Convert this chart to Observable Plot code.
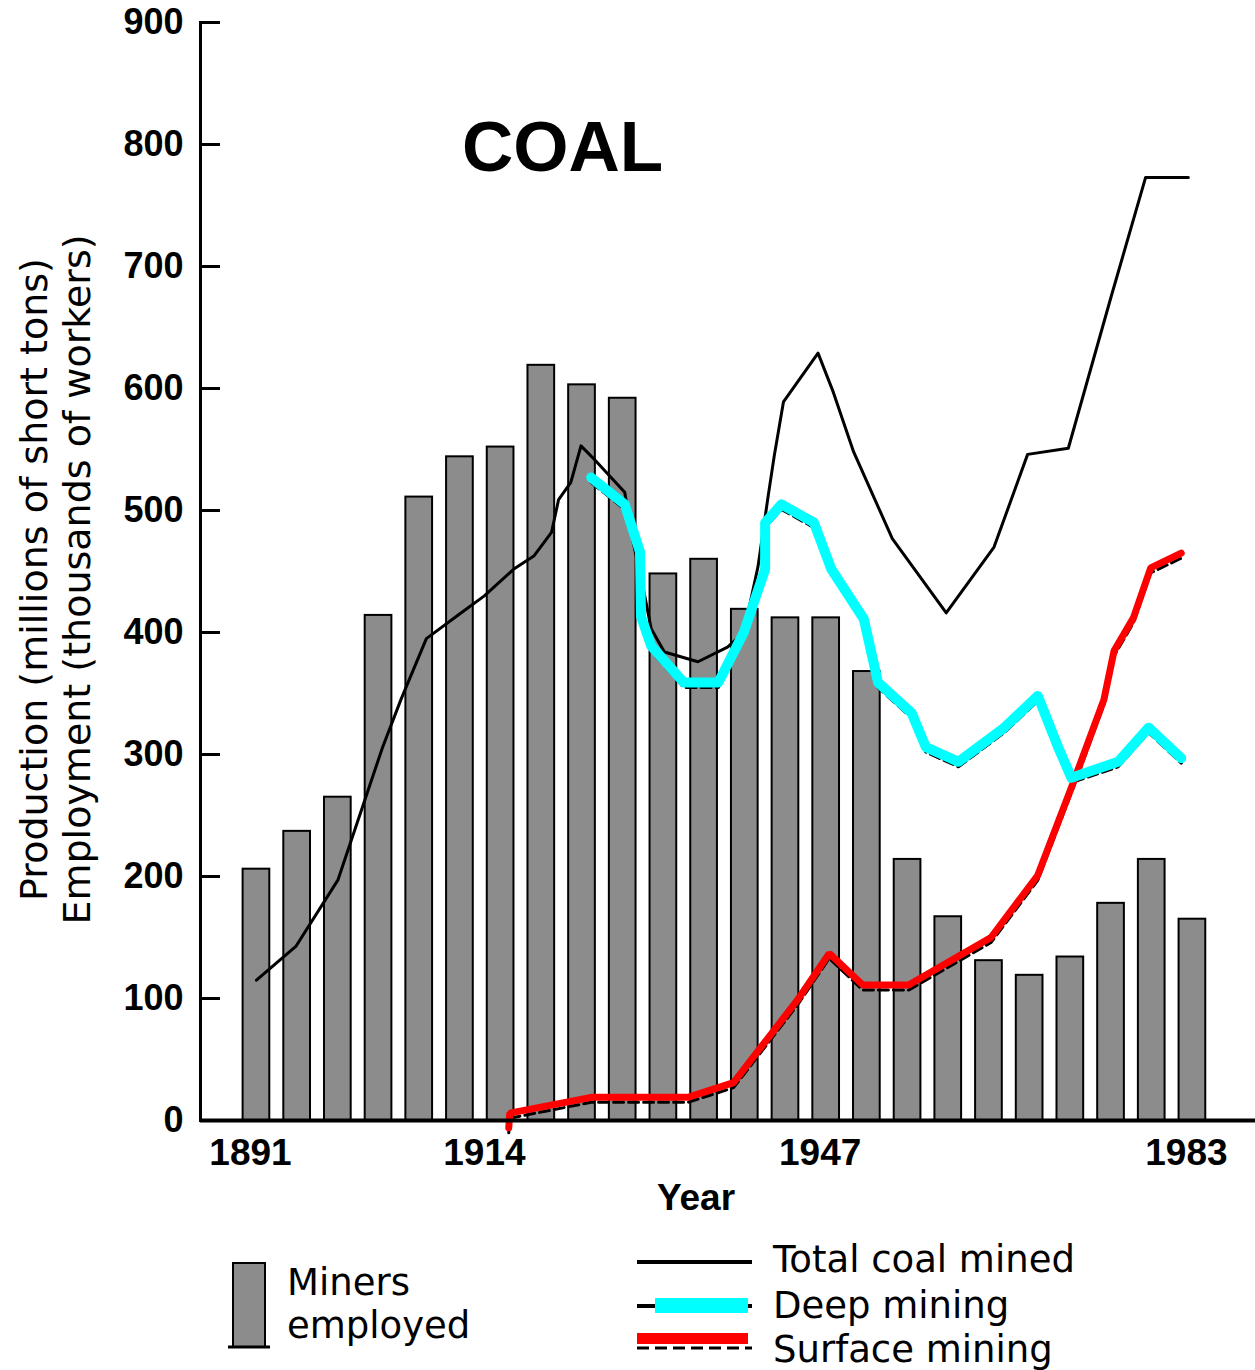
<!DOCTYPE html>
<html><head><meta charset="utf-8">
<script src="https://cdn.jsdelivr.net/npm/d3@7"></script>
<script src="https://cdn.jsdelivr.net/npm/@observablehq/plot@0.6"></script>
<style>
body{margin:0;background:#fff;}
#wrap{position:relative;width:1255px;height:1370px;overflow:hidden;background:#fff;}
#wrap svg{display:block;}
#overlay{position:absolute;left:0;top:0;pointer-events:none;}
</style></head><body><div id="wrap"></div>
<script>
// ---- data ----
const yTicks = [0, 100, 200, 300, 400, 500, 600, 700, 800, 900];
const xTicks = [1891, 1914, 1947, 1983];
const minerYears = [1891,1895,1899,1903,1907,1911,1915,1919,1923,1927,1931,1935,1939,1943,1947,1951,1955,1959,1963,1967,1971,1975,1979,1983];
const minersEmployed = [206,237,265,414,511,544,552,619,603,592,448,460,419,412,412,368,214,167,131,119,134,178,214,165];

const totalYears = [1891.0,1894.9,1899.0,1903.4,1905.2,1907.7,1911.1,1913.4,1916.3,1918.3,1920.0,1920.7,1921.9,1922.9,1924.2,1927.2,1928.0,1929.1,1929.8,1931.1,1934.4,1937.3,1938.9,1940.3,1941.3,1941.9,1942.8,1946.2,1947.7,1949.7,1953.5,1958.8,1963.5,1966.8,1970.8,1975.0,1978.4,1982.6];
const totalMined = [115,143,197,306,345,395,416,430,452,463,482,509,523,553,542,515,475,433,403,384,376,388,400,454,512,545,589,629,597,548,477,416,470,546,551,675,773,773];

const deepYears = [1923.9,1927.2,1928.7,1928.8,1929.8,1933.0,1936.4,1938.9,1941.0,1941.0,1942.6,1945.8,1947.5,1950.7,1952.1,1955.4,1956.8,1960.0,1964.5,1967.8,1969.8,1971.1,1975.7,1978.7,1981.9];
const deepMined = [527,505,466,413,389,359,359,400,452,490,505,490,452,411,359,334,306,294,322,348,306,281,294,322,297];

const surfaceYears = [1915.8,1915.9,1923.9,1933.4,1937.9,1944.2,1947.3,1950.6,1955.1,1963.2,1967.8,1971.2,1974.3,1975.3,1977.2,1978.9,1981.9];
const surfaceMined = [-6,6,19,19,31,99,137,111,111,150,201,275,345,385,412,453,465];

const chartTitle = "COAL";
const xLabel = "Year";
const yLabelLines = ["Production (millions of short tons)", "Employment (thousands of workers)"];
const legendMiners = ["Miners", "employed"];
const legendLines = ["Total coal mined", "Deep mining", "Surface mining"];

// ---- tables ----
const miners = minerYears.map((year, i) => ({year, value: minersEmployed[i]}));
const total = totalYears.map((year, i) => ({year, value: totalMined[i]}));
const deep = deepYears.map((year, i) => ({year, value: deepMined[i]}));
const surface = surfaceYears.map((year, i) => ({year, value: surfaceMined[i]}));

const chart = Plot.plot({
  width: 1255,
  height: 1215,
  marginLeft: 200,
  marginRight: 0,
  marginTop: 22,
  marginBottom: 95,
  x: {domain: [1885.5, 1989.2]},
  y: {domain: [0, 900]},
  style: {fontFamily: "'Liberation Sans', Arial, sans-serif", background: "white", color: "black", overflow: "visible"},
  marks: [
    Plot.rectY(miners, {x1: d => d.year - 2, x2: d => d.year + 2, y: "value", insetLeft: 7, insetRight: 7, fill: "#8c8c8c", stroke: "black", strokeWidth: 2}),
    Plot.line(total, {x: "year", y: "value", stroke: "black", strokeWidth: 3}),
    Plot.line(deep, {x: "year", y: "value", stroke: "black", strokeWidth: 3, strokeDasharray: "10,5", dy: 5}),
    Plot.line(surface, {x: "year", y: "value", stroke: "black", strokeWidth: 3, strokeDasharray: "10,5", dy: 5}),
    Plot.line(surface, {x: "year", y: "value", stroke: "#ff0000", strokeWidth: 7, strokeLinejoin: "miter"}),
    Plot.line(deep, {x: "year", y: "value", stroke: "#00ffff", strokeWidth: 10, strokeLinejoin: "round"}),
    Plot.frame({anchor: "left", strokeWidth: 3}),
    Plot.ruleY([0], {strokeWidth: 4}),
    Plot.axisY({ticks: yTicks, tickSize: 20, dx: 20, strokeWidth: 3, tickFormat: () => "", label: null}),
    Plot.axisY({ticks: yTicks, tickSize: 0, tickPadding: 17, fontSize: 36, fontWeight: "bold", stroke: "black", strokeWidth: 0.8, label: null}),
    Plot.axisX({ticks: xTicks, tickSize: 0, tickPadding: 18, dx: -6, tickFormat: d => String(d), fontSize: 37, fontWeight: "bold", label: null}),
    Plot.text([xLabel], {text: d => d, frameAnchor: "bottom", dx: -32, dy: 63, lineAnchor: "top", fontSize: 37, fontWeight: "bold"}),
    Plot.text([yLabelLines.join("\n")], {text: d => d, frameAnchor: "left", textAnchor: "middle", lineAnchor: "middle", rotate: -90, dx: -146, dy: 8, fontSize: 38, lineHeight: 1.13, fontFamily: "'DejaVu Sans', sans-serif"})
  ]
});

const wrap = document.getElementById("wrap");
wrap.appendChild(chart);

// ---- overlay: title + legend ----
const NS = "http://www.w3.org/2000/svg";
const ov = document.createElementNS(NS, "svg");
ov.setAttribute("id", "overlay");
ov.setAttribute("width", 1255);
ov.setAttribute("height", 1370);
function el(tag, attrs, text) {
  const e = document.createElementNS(NS, tag);
  for (const k in attrs) e.setAttribute(k, attrs[k]);
  if (text != null) e.textContent = text;
  ov.appendChild(e);
  return e;
}
el("text", {x: 462, y: 171, "font-family": "'Liberation Sans', Arial, sans-serif", "font-weight": "bold", "font-size": 71}, chartTitle);

// bar swatch
el("rect", {x: 233, y: 1263, width: 32, height: 84, fill: "#8c8c8c", stroke: "black", "stroke-width": 2});
el("line", {x1: 228, x2: 270, y1: 1347, y2: 1347, stroke: "black", "stroke-width": 3});
const legFont = {"font-family": "'DejaVu Sans', sans-serif", "font-size": 37, fill: "black"};
el("text", {x: 287, y: 1295, ...legFont}, legendMiners[0]);
el("text", {x: 287, y: 1338, ...legFont}, legendMiners[1]);

// line swatches
el("line", {x1: 637, x2: 752, y1: 1262, y2: 1262, stroke: "black", "stroke-width": 4});
el("line", {x1: 637, x2: 752, y1: 1306, y2: 1306, stroke: "black", "stroke-width": 4});
el("rect", {x: 655, y: 1298, width: 93, height: 15, fill: "#00ffff"});
el("line", {x1: 637, x2: 752, y1: 1348, y2: 1348, stroke: "black", "stroke-width": 3, "stroke-dasharray": "12,6"});
el("rect", {x: 637, y: 1333, width: 111, height: 11, fill: "#ff0000"});
el("text", {x: 773, y: 1272, ...legFont}, legendLines[0]);
el("text", {x: 773, y: 1318, ...legFont}, legendLines[1]);
el("text", {x: 773, y: 1362, ...legFont}, legendLines[2]);

wrap.appendChild(ov);
</script>
</body></html>
